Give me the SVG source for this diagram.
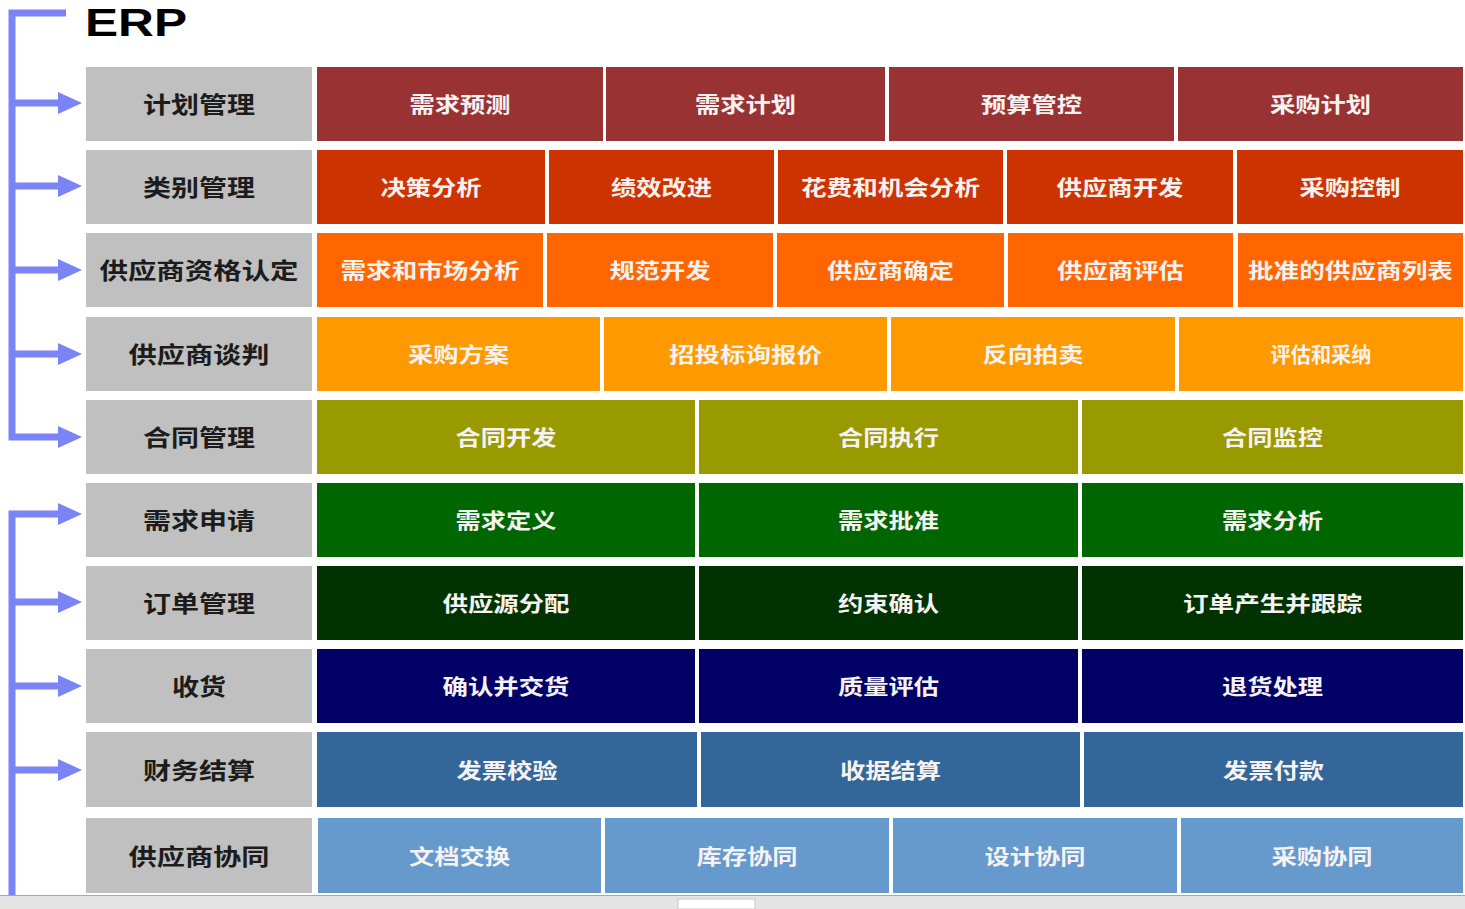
<svg xmlns="http://www.w3.org/2000/svg" width="1465" height="909" viewBox="0 0 1465 909">
<style>
.lbl{fill:#c0c0c0}
.lt{font-family:"Noto Sans CJK SC","Noto Sans CJK JP",sans-serif;font-weight:bold;font-size:23px;fill:#1c1c1c;text-anchor:middle;dominant-baseline:central}
.ct{font-family:"Noto Sans CJK SC","Noto Sans CJK JP",sans-serif;font-weight:bold;font-size:21px;fill:#f6f2f2;text-anchor:middle;dominant-baseline:central}
.conn{fill:none;stroke:#7b84f4;stroke-width:7;stroke-linejoin:miter}
.r1{fill:#993333}.r2{fill:#cc3300}.r3{fill:#ff6600}.r4{fill:#ff9900}.r5{fill:#999900}
.r6{fill:#006600}.r7{fill:#003300}.r8{fill:#000066}.r9{fill:#336699}.r10{fill:#6699cc}
</style>
<defs>
<marker id="ah" markerUnits="userSpaceOnUse" markerWidth="24" markerHeight="22" refX="0" refY="11" orient="auto" viewBox="0 0 24 22">
<path d="M0,0 L24,11 L0,22 z" fill="#7b84f4"/>
</marker>
</defs>
<rect width="1465" height="909" fill="#ffffff"/>
<text x="136" y="36" font-family="Liberation Sans, Arial, sans-serif" font-weight="bold" font-size="38" fill="#000" text-anchor="middle" textLength="102" lengthAdjust="spacingAndGlyphs">ERP</text>

<g id="connectors">
<path class="conn" d="M66,13 H12 V437 H58" marker-end="url(#ah)"/>
<path class="conn" d="M12,103 H58" marker-end="url(#ah)"/>
<path class="conn" d="M12,186 H58" marker-end="url(#ah)"/>
<path class="conn" d="M12,270 H58" marker-end="url(#ah)"/>
<path class="conn" d="M12,354 H58" marker-end="url(#ah)"/>
<path class="conn" d="M12,895 V514 H58" marker-end="url(#ah)"/>
<path class="conn" d="M12,602 H58" marker-end="url(#ah)"/>
<path class="conn" d="M12,686 H58" marker-end="url(#ah)"/>
<path class="conn" d="M12,770 H58" marker-end="url(#ah)"/>
</g>

<g id="row1">
<g id="n-jihua"><rect class="lbl" x="86" y="67" width="226" height="74"/><text class="lt" x="199" y="103" textLength="112" lengthAdjust="spacingAndGlyphs">计划管理</text></g>
<g id="n-xqyc"><rect class="r1" x="317" y="67" width="286" height="74"/><text class="ct" x="460" y="103" textLength="101" lengthAdjust="spacingAndGlyphs">需求预测</text></g>
<g id="n-xqjh"><rect class="r1" x="606" y="67" width="279" height="74"/><text class="ct" x="745.5" y="103" textLength="101" lengthAdjust="spacingAndGlyphs">需求计划</text></g>
<g id="n-ysgk"><rect class="r1" x="889" y="67" width="285" height="74"/><text class="ct" x="1031.5" y="103" textLength="101" lengthAdjust="spacingAndGlyphs">预算管控</text></g>
<g id="n-cgjh"><rect class="r1" x="1178" y="67" width="285" height="74"/><text class="ct" x="1320.5" y="103" textLength="101" lengthAdjust="spacingAndGlyphs">采购计划</text></g>
</g>

<g id="row2">
<g id="n-leibie"><rect class="lbl" x="86" y="150" width="226" height="74"/><text class="lt" x="199" y="186" textLength="112" lengthAdjust="spacingAndGlyphs">类别管理</text></g>
<g id="n-jcfx"><rect class="r2" x="317" y="150" width="228" height="74"/><text class="ct" x="431" y="186" textLength="101" lengthAdjust="spacingAndGlyphs">决策分析</text></g>
<g id="n-jxgj"><rect class="r2" x="549" y="150" width="225" height="74"/><text class="ct" x="661.5" y="186" textLength="101" lengthAdjust="spacingAndGlyphs">绩效改进</text></g>
<g id="n-hfjh"><rect class="r2" x="778" y="150" width="225" height="74"/><text class="ct" x="890.5" y="186" textLength="179" lengthAdjust="spacingAndGlyphs">花费和机会分析</text></g>
<g id="n-gyskf"><rect class="r2" x="1007" y="150" width="226" height="74"/><text class="ct" x="1120" y="186" textLength="127" lengthAdjust="spacingAndGlyphs">供应商开发</text></g>
<g id="n-cgkz"><rect class="r2" x="1237" y="150" width="226" height="74"/><text class="ct" x="1350" y="186" textLength="101" lengthAdjust="spacingAndGlyphs">采购控制</text></g>
</g>

<g id="row3">
<g id="n-zgrd"><rect class="lbl" x="86" y="233" width="226" height="74"/><text class="lt" x="199" y="269" textLength="199" lengthAdjust="spacingAndGlyphs">供应商资格认定</text></g>
<g id="n-scfx"><rect class="r3" x="317" y="233" width="226" height="74"/><text class="ct" x="430" y="269" textLength="179" lengthAdjust="spacingAndGlyphs">需求和市场分析</text></g>
<g id="n-gfkf"><rect class="r3" x="547" y="233" width="226" height="74"/><text class="ct" x="660" y="269" textLength="101" lengthAdjust="spacingAndGlyphs">规范开发</text></g>
<g id="n-gysqd"><rect class="r3" x="777" y="233" width="227" height="74"/><text class="ct" x="890.5" y="269" textLength="127" lengthAdjust="spacingAndGlyphs">供应商确定</text></g>
<g id="n-gyspg"><rect class="r3" x="1008" y="233" width="225" height="74"/><text class="ct" x="1120.5" y="269" textLength="127" lengthAdjust="spacingAndGlyphs">供应商评估</text></g>
<g id="n-pzlb"><rect class="r3" x="1238" y="233" width="225" height="74"/><text class="ct" x="1350.5" y="269" textLength="205" lengthAdjust="spacingAndGlyphs">批准的供应商列表</text></g>
</g>

<g id="row4">
<g id="n-tanpan"><rect class="lbl" x="86" y="317" width="226" height="74"/><text class="lt" x="199" y="353" textLength="141" lengthAdjust="spacingAndGlyphs">供应商谈判</text></g>
<g id="n-cgfa"><rect class="r4" x="317" y="317" width="283" height="74"/><text class="ct" x="458.5" y="353" textLength="101" lengthAdjust="spacingAndGlyphs">采购方案</text></g>
<g id="n-ztb"><rect class="r4" x="604" y="317" width="283" height="74"/><text class="ct" x="745.5" y="353" textLength="153" lengthAdjust="spacingAndGlyphs">招投标询报价</text></g>
<g id="n-fxpm"><rect class="r4" x="891" y="317" width="284" height="74"/><text class="ct" x="1033" y="353" textLength="101" lengthAdjust="spacingAndGlyphs">反向拍卖</text></g>
<g id="n-pgcn"><rect class="r4" x="1179" y="317" width="284" height="74"/><text class="ct" x="1321" y="353" textLength="101" lengthAdjust="spacingAndGlyphs">评估和采纳</text></g>
</g>

<g id="row5">
<g id="n-hetong"><rect class="lbl" x="86" y="400" width="226" height="74"/><text class="lt" x="199" y="436" textLength="112" lengthAdjust="spacingAndGlyphs">合同管理</text></g>
<g id="n-htkf"><rect class="r5" x="317" y="400" width="378" height="74"/><text class="ct" x="506" y="436" textLength="101" lengthAdjust="spacingAndGlyphs">合同开发</text></g>
<g id="n-htzx"><rect class="r5" x="699" y="400" width="379" height="74"/><text class="ct" x="888.5" y="436" textLength="101" lengthAdjust="spacingAndGlyphs">合同执行</text></g>
<g id="n-htjk"><rect class="r5" x="1082" y="400" width="381" height="74"/><text class="ct" x="1272.5" y="436" textLength="101" lengthAdjust="spacingAndGlyphs">合同监控</text></g>
</g>

<g id="row6">
<g id="n-xqsq"><rect class="lbl" x="86" y="483" width="226" height="74"/><text class="lt" x="199" y="519" textLength="112" lengthAdjust="spacingAndGlyphs">需求申请</text></g>
<g id="n-xqdy"><rect class="r6" x="317" y="483" width="378" height="74"/><text class="ct" x="506" y="519" textLength="101" lengthAdjust="spacingAndGlyphs">需求定义</text></g>
<g id="n-xqpz"><rect class="r6" x="699" y="483" width="379" height="74"/><text class="ct" x="888.5" y="519" textLength="101" lengthAdjust="spacingAndGlyphs">需求批准</text></g>
<g id="n-xqfx"><rect class="r6" x="1082" y="483" width="381" height="74"/><text class="ct" x="1272.5" y="519" textLength="101" lengthAdjust="spacingAndGlyphs">需求分析</text></g>
</g>

<g id="row7">
<g id="n-dingdan"><rect class="lbl" x="86" y="566" width="226" height="74"/><text class="lt" x="199" y="602" textLength="112" lengthAdjust="spacingAndGlyphs">订单管理</text></g>
<g id="n-gyyfp"><rect class="r7" x="317" y="566" width="378" height="74"/><text class="ct" x="506" y="602" textLength="127" lengthAdjust="spacingAndGlyphs">供应源分配</text></g>
<g id="n-ysqr"><rect class="r7" x="699" y="566" width="379" height="74"/><text class="ct" x="888.5" y="602" textLength="101" lengthAdjust="spacingAndGlyphs">约束确认</text></g>
<g id="n-ddcs"><rect class="r7" x="1082" y="566" width="381" height="74"/><text class="ct" x="1272.5" y="602" textLength="179" lengthAdjust="spacingAndGlyphs">订单产生并跟踪</text></g>
</g>

<g id="row8">
<g id="n-shouhuo"><rect class="lbl" x="86" y="649" width="226" height="74"/><text class="lt" x="199" y="685" textLength="54" lengthAdjust="spacingAndGlyphs">收货</text></g>
<g id="n-qrjh"><rect class="r8" x="317" y="649" width="378" height="74"/><text class="ct" x="506" y="685" textLength="127" lengthAdjust="spacingAndGlyphs">确认并交货</text></g>
<g id="n-zlpg"><rect class="r8" x="699" y="649" width="379" height="74"/><text class="ct" x="888.5" y="685" textLength="101" lengthAdjust="spacingAndGlyphs">质量评估</text></g>
<g id="n-thcl"><rect class="r8" x="1082" y="649" width="381" height="74"/><text class="ct" x="1272.5" y="685" textLength="101" lengthAdjust="spacingAndGlyphs">退货处理</text></g>
</g>

<g id="row9">
<g id="n-caiwu"><rect class="lbl" x="86" y="732" width="226" height="75"/><text class="lt" x="199" y="769" textLength="112" lengthAdjust="spacingAndGlyphs">财务结算</text></g>
<g id="n-fpjy"><rect class="r9" x="317" y="732" width="380" height="75"/><text class="ct" x="507" y="769" textLength="101" lengthAdjust="spacingAndGlyphs">发票校验</text></g>
<g id="n-sjjs"><rect class="r9" x="701" y="732" width="379" height="75"/><text class="ct" x="890.5" y="769" textLength="101" lengthAdjust="spacingAndGlyphs">收据结算</text></g>
<g id="n-fpfk"><rect class="r9" x="1084" y="732" width="379" height="75"/><text class="ct" x="1273.5" y="769" textLength="101" lengthAdjust="spacingAndGlyphs">发票付款</text></g>
</g>

<g id="row10">
<g id="n-xietong"><rect class="lbl" x="86" y="818" width="226" height="75"/><text class="lt" x="199" y="855" textLength="141" lengthAdjust="spacingAndGlyphs">供应商协同</text></g>
<g id="n-wdjh"><rect class="r10" x="318" y="818" width="283" height="75"/><text class="ct" x="459.5" y="855" textLength="101" lengthAdjust="spacingAndGlyphs">文档交换</text></g>
<g id="n-kcxt"><rect class="r10" x="605" y="818" width="284" height="75"/><text class="ct" x="747" y="855" textLength="101" lengthAdjust="spacingAndGlyphs">库存协同</text></g>
<g id="n-sjxt"><rect class="r10" x="893" y="818" width="284" height="75"/><text class="ct" x="1035" y="855" textLength="101" lengthAdjust="spacingAndGlyphs">设计协同</text></g>
<g id="n-cgxt"><rect class="r10" x="1181" y="818" width="282" height="75"/><text class="ct" x="1322" y="855" textLength="101" lengthAdjust="spacingAndGlyphs">采购协同</text></g>
</g>

<rect x="0" y="895" width="1465" height="14" fill="#e4e4e4"/>
<line x1="0" y1="895.5" x2="1465" y2="895.5" stroke="#a8a8a8" stroke-width="1"/>
<rect x="678" y="899" width="77" height="10" fill="#ffffff" stroke="#c8c8c8" stroke-width="1"/>
</svg>
